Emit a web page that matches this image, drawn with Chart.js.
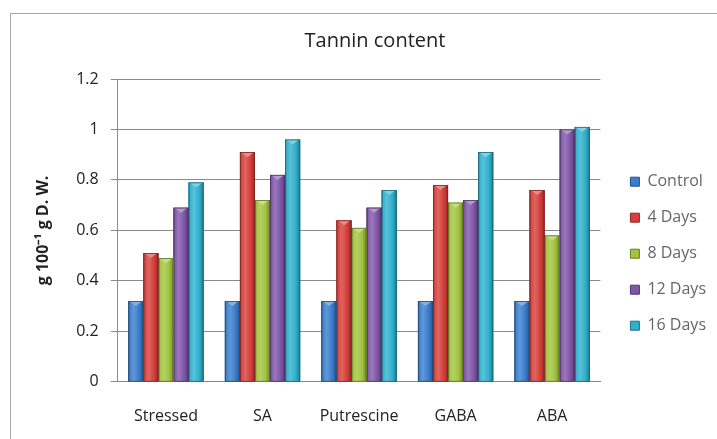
<!DOCTYPE html>
<html>
<head>
<meta charset="utf-8">
<script src="https://cdn.jsdelivr.net/npm/chart.js@4"></script>
<style>
  html, body { margin: 0; padding: 0; background: #fff; overflow: hidden; }
  #frame {
    position: absolute; left: 10px; top: 13px;
    width: 740px; height: 480px;
    border: 1px solid #a6a6a6; background: #fff;
  }
  #wrap { position: absolute; left: 0; top: 0; width: 722px; height: 451px; }
</style>
</head>
<body>
<div id="frame"><div id="wrap"><canvas id="c"></canvas></div></div>
<script>
// Treatments on the x axis
const categories = ['Stressed', 'SA', 'Putrescine', 'GABA', 'ABA'];
// Sampling times (legend)
const seriesNames = ['Control', '4 Days', '8 Days', '12 Days', '16 Days'];
// Tannin content, g 100^-1 g D.W.
const control = [0.32, 0.32, 0.32, 0.32, 0.32];
const days4   = [0.51, 0.91, 0.64, 0.78, 0.76];
const days8   = [0.49, 0.72, 0.61, 0.71, 0.58];
const days12  = [0.69, 0.82, 0.69, 0.72, 1.00];
const days16  = [0.79, 0.96, 0.76, 0.91, 1.01];
const yTicks  = [0, 0.2, 0.4, 0.6, 0.8, 1, 1.2];

const seriesColors = ['#3b7dcc', '#d63f3a', '#a2c43f', '#8056a9', '#2fb1cd'];
const seriesValues = [control, days4, days8, days12, days16];

const FONT = '"Open Sans", sans-serif';
const TEXT = '#222222';

function shade(hex, amt) {
  const n = parseInt(hex.slice(1), 16);
  let r = (n >> 16) & 255, g = (n >> 8) & 255, b = n & 255;
  const f = v => Math.max(0, Math.min(255, Math.round(amt >= 0 ? v + (255 - v) * amt : v * (1 + amt))));
  return `rgb(${f(r)},${f(g)},${f(b)})`;
}

// Glossy shading and bevelled caps, drawn over each bar using the bar element geometry
const bevelPlugin = {
  id: 'bevel',
  afterDatasetDraw(chart, args) {
    const ctx = chart.ctx;
    const meta = args.meta;
    const base = seriesColors[args.index];
    ctx.save();
    meta.data.forEach(bar => {
      const { x, y, width, base: b } = bar.getProps(['x', 'y', 'width', 'base'], true);
      const l = x - width / 2, r = x + width / 2;
      const g = ctx.createLinearGradient(l, 0, r, 0);
      g.addColorStop(0, shade(base, -0.3));
      g.addColorStop(0.12, shade(base, 0.05));
      g.addColorStop(0.35, shade(base, 0.2));
      g.addColorStop(0.7, base);
      g.addColorStop(0.9, shade(base, -0.2));
      g.addColorStop(1, shade(base, -0.45));
      ctx.fillStyle = g;
      ctx.fillRect(l, y, width, b - y);
      // top cap
      ctx.beginPath();
      ctx.moveTo(l + 1, y);
      ctx.lineTo(r - 1, y);
      ctx.lineTo(x, y + 5);
      ctx.closePath();
      ctx.fillStyle = shade(base, 0.4);
      ctx.fill();
      ctx.strokeStyle = shade(base, -0.4);
      ctx.lineWidth = 0.8;
      ctx.strokeRect(l + 0.4, y + 0.4, width - 0.8, b - y - 0.4);
    });
    ctx.restore();
  }
};

new Chart(document.getElementById('c'), {
  type: 'bar',
  data: {
    labels: categories,
    datasets: seriesNames.map((name, i) => ({
      label: name,
      data: seriesValues[i],
      backgroundColor: seriesColors[i],
      borderWidth: 0,
      barPercentage: 1,
      categoryPercentage: 0.78
    }))
  },
  options: {
    responsive: true,
    maintainAspectRatio: false,
    animation: false,
    layout: { padding: { left: 23, right: 17, top: 0, bottom: 14 } },
    plugins: {
      title: {
        display: true,
        text: 'Tannin content',
        color: TEXT,
        font: { family: FONT, size: 20, weight: 'normal' },
        padding: { top: 15, bottom: 26 }
      },
      legend: {
        position: 'right',
        align: 'center',
        title: { display: true, text: '', padding: 14 },
        labels: {
          boxWidth: 9,
          boxHeight: 9,
          padding: 20,
          color: TEXT,
          font: { family: FONT, size: 16 },
          generateLabels(chart) {
            return chart.data.datasets.map((ds, i) => ({
              text: ds.label,
              fillStyle: seriesColors[i],
              strokeStyle: shade(seriesColors[i], -0.35),
              lineWidth: 1,
              hidden: false,
              datasetIndex: i
            }));
          }
        }
      },
      tooltip: { enabled: false }
    },
    scales: {
      x: {
        grid: { display: false, drawTicks: false },
        border: { color: '#868686', width: 1 },
        ticks: { color: TEXT, padding: 25, font: { family: FONT, size: 16 } }
      },
      y: {
        min: 0,
        max: 1.2,
        afterBuildTicks(scale) { scale.ticks = yTicks.map(v => ({ value: v })); },
        grid: { color: '#8a8a8a', lineWidth: 1, tickLength: 7, tickColor: '#8a8a8a' },
        border: { color: '#8a8a8a', width: 1 },
        ticks: {
          color: TEXT,
          padding: 12,
          font: { family: FONT, size: 16 },
          callback: v => String(v)
        },
        title: {
          display: true,
          text: 'g 100\u207B\u00B9 g D. W.',
          color: TEXT,
          font: { family: FONT, size: 16, weight: 'bold' },
          padding: { top: 0, bottom: 11 }
        }
      },
      // empty spacer between the plot and the legend
      gap: {
        type: 'linear',
        position: 'right',
        display: true,
        grid: { display: false, drawTicks: false },
        border: { display: false },
        ticks: { display: false },
        afterFit(scale) { scale.width = 10; }
      }
    }
  },
  plugins: [bevelPlugin]
});
</script>
</body>
</html>
